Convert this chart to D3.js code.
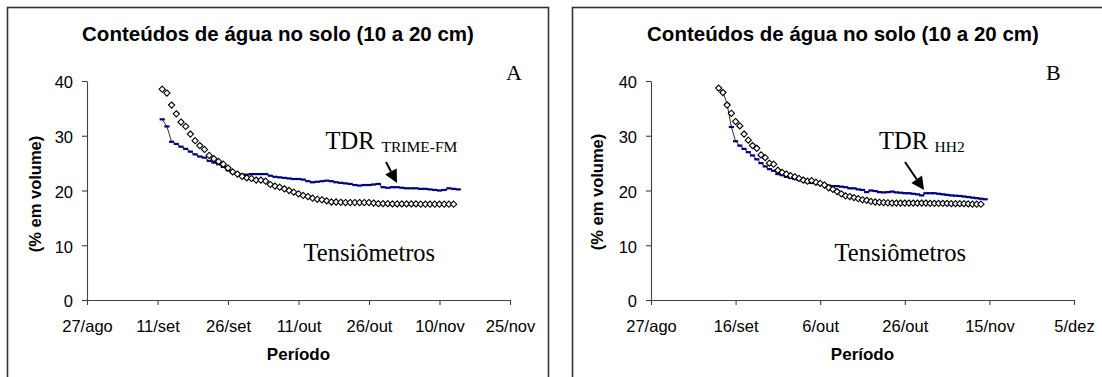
<!DOCTYPE html>
<html><head><meta charset="utf-8">
<script src="https://cdn.jsdelivr.net/npm/d3@7"></script>
<style>body{margin:0;background:#fff} svg{display:block}</style>
</head><body><svg id="c" width="1102" height="377"></svg>
<script>
const chartTitle = "Conteúdos de água no solo (10 a 20 cm)";
const yTitle = "(% em volume)";
const xTitle = "Período";
const yTicks = [0, 10, 20, 30, 40];
const xTickDatesA = ["2002-08-27","2002-09-11","2002-09-26","2002-10-11","2002-10-26","2002-11-10","2002-11-25"];
const xTickLabelsA = ["27/ago","11/set","26/set","11/out","26/out","10/nov","25/nov"];
const xTickDatesB = ["2002-08-27","2002-09-16","2002-10-06","2002-10-26","2002-11-15","2002-12-05"];
const xTickLabelsB = ["27/ago","16/set","6/out","26/out","15/nov","5/dez"];
const seriesStart = "2002-09-12"; // daily readings

const tensA = [38.5,37.8,35.6,34.0,32.5,31.7,30.3,29.1,28.2,27.5,26.4,25.8,25.3,24.8,24.1,23.4,23.0,22.6,22.3,22.2,
  21.9,21.9,21.7,21.1,20.8,20.6,20.3,20.0,19.7,19.4,19.1,18.9,18.6,18.4,18.3,18.1,17.9,17.9,17.85,17.8,
  17.8,17.8,17.8,17.8,17.8,17.7,17.6,17.6,17.6,17.55,17.55,17.55,17.55,17.55,17.55,17.5,17.5,17.5,17.5,17.5,
  17.5,17.5,17.5];
const tdrA = [33.0,31.7,28.9,28.5,28.0,27.6,27.1,26.6,26.2,26.0,25.4,25.1,24.8,24.3,23.7,23.3,23.1,22.9,22.9,23.0,
  23.0,23.0,23.0,22.7,22.5,22.4,22.3,22.2,22.1,22.1,22.0,21.7,21.5,21.6,21.7,21.8,21.7,21.5,21.4,21.3,
  21.2,21.0,20.9,21.0,21.0,21.1,21.2,20.6,20.5,20.6,20.6,20.5,20.4,20.4,20.4,20.3,20.3,20.2,20.1,20.0,
  20.1,20.4,20.3,20.2];
const tensB = [38.7,37.9,35.6,34.1,32.6,31.8,30.3,29.2,28.2,27.7,26.5,26.0,25.0,24.8,23.7,23.3,23.0,22.7,22.5,22.2,
  21.9,21.7,21.8,21.5,21.3,21.0,20.5,20.2,19.8,19.4,19.0,18.9,18.7,18.5,18.3,18.2,18.0,17.9,17.85,17.8,
  17.75,17.7,17.7,17.7,17.7,17.7,17.7,17.7,17.7,17.7,17.65,17.65,17.65,17.65,17.65,17.6,17.6,17.6,17.6,17.55,
  17.5,17.5,17.5];
const tdrB = [38.7,38.0,35.8,31.6,29.0,28.2,27.6,27.0,26.4,25.7,25.0,24.4,23.9,23.6,23.0,22.8,22.5,22.3,22.1,21.9,
  21.7,21.5,21.4,21.3,21.2,21.1,20.9,20.8,20.8,20.7,20.6,20.4,20.4,20.2,20.1,19.7,20.0,19.9,19.7,19.65,
  19.7,19.8,19.65,19.6,19.5,19.5,19.4,19.3,19.1,19.5,19.5,19.5,19.4,19.3,19.2,19.1,19.05,19.0,18.9,18.8,
  18.7,18.6,18.5,18.4];

const panels = [
  {box: 7.5, left: 87, right: 510, tickDates: xTickDatesA, tickLabels: xTickLabelsA, tens: tensA, tdr: tdrA,
   letter: "A", letterX: 506, yTitleX: 35, yTitleY: 194, sub: "TRIME-FM",
   tdrX: 325.5, subX: 381.5, tensX: 303.5, arrow: [386, 162, 397, 183]},
  {box: 572.5, left: 651, right: 1074, tickDates: xTickDatesB, tickLabels: xTickLabelsB, tens: tensB, tdr: tdrB,
   letter: "B", letterX: 1046, yTitleX: 597.5, yTitleY: 192, sub: "HH2",
   tdrX: 879, subX: 934.5, tensX: 834.5, arrow: [905, 162, 924, 190]}
];

const svg = d3.select("#c");
const parse = d3.utcParse("%Y-%m-%d");
const sans = "'Liberation Sans', Arial, sans-serif";
const serif = "'Liberation Serif', 'Times New Roman', serif";
const axisColor = "#404040";

panels.forEach(p => {
  const g = svg.append("g");
  g.append("rect").attr("x", p.box).attr("y", 7.5).attr("width", 541).attr("height", 420)
    .attr("fill", "none").attr("stroke", "#333").attr("stroke-width", 1.6);

  const tickDates = p.tickDates.map(parse);
  const x = d3.scaleUtc().domain([tickDates[0], tickDates[tickDates.length - 1]]).range([p.left, p.right]);
  const y = d3.scaleLinear().domain([0, 40]).range([300, 81]);
  const start = parse(seriesStart);
  const dateAt = i => d3.utcDay.offset(start, i);

  g.append("text").attr("x", p.box + 270.5).attr("y", 41).attr("text-anchor", "middle")
    .attr("font-family", sans).attr("font-weight", "bold").attr("font-size", "20.5px").text(chartTitle);

  const xa = g.append("g").attr("transform", `translate(0,${y(0)})`)
    .call(d3.axisBottom(x).tickValues(tickDates).tickFormat((d, i) => p.tickLabels[i]).tickSize(5).tickSizeOuter(0).tickPadding(15));
  const ya = g.append("g").attr("transform", `translate(${p.left},0)`)
    .call(d3.axisLeft(y).tickValues(yTicks).tickSize(5).tickSizeOuter(0).tickPadding(9));
  [xa, ya].forEach(a => {
    a.selectAll("path,line").attr("stroke", axisColor).attr("stroke-width", 1.1);
    a.selectAll("text").attr("font-family", sans).attr("font-size", "16.5px").attr("fill", "#000");
  });
  ya.selectAll("text").attr("dy", "0.41em");

  g.append("text").attr("transform", `translate(${p.yTitleX},${p.yTitleY}) rotate(-90)`)
    .attr("text-anchor", "middle").attr("dy", "0.35em")
    .attr("font-family", sans).attr("font-weight", "bold").attr("font-size", "16.5px").text(yTitle);
  g.append("text").attr("x", (p.left + p.right) / 2).attr("y", 360).attr("text-anchor", "middle")
    .attr("font-family", sans).attr("font-weight", "bold").attr("font-size", "17px").text(xTitle);

  // TDR series: thin connecting line + blue dash markers
  g.append("path").datum(p.tdr)
    .attr("d", d3.line().x((d, i) => x(dateAt(i))).y(d => y(d)))
    .attr("fill", "none").attr("stroke", "#1a1a1a").attr("stroke-width", 0.9);
  g.selectAll(".dash").data(p.tdr).join("rect")
    .attr("x", (d, i) => x(dateAt(i)) - 2.6).attr("y", d => y(d) - 1.1)
    .attr("width", 5.2).attr("height", 2.2).attr("fill", "#000080");

  // Tensiometer diamonds
  const r = 3.1;
  g.selectAll(".dia").data(p.tens).join("path")
    .attr("transform", (d, i) => `translate(${x(dateAt(i))},${y(d)})`)
    .attr("d", `M0,${-r}L${r},0L0,${r}L${-r},0Z`)
    .attr("fill", "#fff").attr("stroke", "#000").attr("stroke-width", 1.1);

  // annotations
  g.append("text").attr("x", p.letterX).attr("y", 80).attr("font-family", serif).attr("font-size", "22px").text(p.letter);
  g.append("text").attr("x", p.tdrX).attr("y", 148.5).attr("font-family", serif).attr("font-size", "24.5px").text("TDR");
  g.append("text").attr("x", p.subX).attr("y", 151.5).attr("font-family", serif).attr("font-size", "15.5px").text(p.sub);
  g.append("text").attr("x", p.tensX).attr("y", 261).attr("font-family", serif).attr("font-size", "24.5px").text("Tensiômetros");

  const [x1, y1, x2, y2] = p.arrow;
  const ang = Math.atan2(y2 - y1, x2 - x1), hl = 13, hw = 6.5;
  const bx = x2 - hl * Math.cos(ang), by = y2 - hl * Math.sin(ang);
  g.append("line").attr("x1", x1).attr("y1", y1).attr("x2", bx).attr("y2", by)
    .attr("stroke", "#000").attr("stroke-width", 2);
  g.append("path").attr("d", `M${x2},${y2}L${bx + hw * Math.sin(ang)},${by - hw * Math.cos(ang)}L${bx - hw * Math.sin(ang)},${by + hw * Math.cos(ang)}Z`)
    .attr("fill", "#000");
});
</script></body></html>
